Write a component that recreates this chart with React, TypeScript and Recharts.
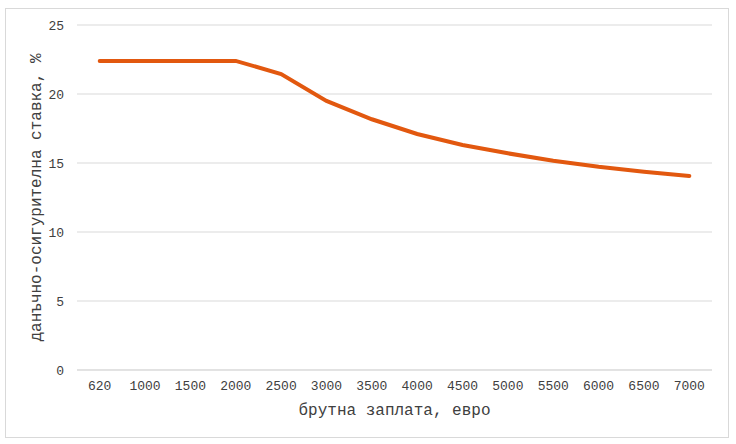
import { LineChart, Line, XAxis, YAxis, CartesianGrid } from 'recharts';

const salaries = ['620', '1000', '1500', '2000', '2500', '3000', '3500', '4000', '4500', '5000', '5500', '6000', '6500', '7000'];
const rates = [22.4, 22.4, 22.4, 22.4, 21.45, 19.5, 18.17, 17.1, 16.3, 15.7, 15.17, 14.73, 14.37, 14.06];
const yTicks = [0, 5, 10, 15, 20, 25];

const data = salaries.map((s, i) => ({ salary: s, rate: rates[i] }));

const FONT = '"Liberation Mono", "Courier New", monospace';
const TEXT = '#404040';

export default function App() {
    return (
        <div
            style={{
                position: 'absolute',
                left: 5,
                top: 8,
                width: 724,
                height: 430,
                border: '1px solid #d9d9d9',
                boxSizing: 'border-box',
                background: '#fff',
            }}
        >
            <LineChart width={722} height={428} data={data} margin={{ top: 16, right: 16, left: 0, bottom: 0 }}>
                <CartesianGrid vertical={false} stroke="#d9d9d9" strokeWidth={1} />
                <XAxis
                    dataKey="salary"
                    height={67}
                    padding={{ left: 22.7, right: 22.7 }}
                    axisLine={{ stroke: '#d9d9d9' }}
                    tickLine={false}
                    tickSize={0}
                    tickMargin={11}
                    interval={0}
                    tick={{ fontFamily: FONT, fontSize: 13, fill: TEXT }}
                    label={({ viewBox }: any) => (
                        <text
                            x={viewBox.x + viewBox.width / 2}
                            y={viewBox.y + 45}
                            textAnchor="middle"
                            fontFamily={FONT}
                            fontSize={16}
                            fill={TEXT}
                        >
                            брутна заплата, евро
                        </text>
                    )}
                />
                <YAxis
                    width={71}
                    domain={[0, 25]}
                    ticks={yTicks}
                    axisLine={false}
                    tickLine={false}
                    tickSize={0}
                    tickMargin={13}
                    tick={{ fontFamily: FONT, fontSize: 13, fill: TEXT }}
                    label={({ viewBox }: any) => {
                        const cx = viewBox.x + 31;
                        const cy = viewBox.y + viewBox.height / 2;
                        return (
                            <text
                                x={cx}
                                y={cy}
                                transform={`rotate(-90 ${cx} ${cy})`}
                                textAnchor="middle"
                                dominantBaseline="central"
                                fontFamily={FONT}
                                fontSize={16}
                                fill={TEXT}
                            >
                                данъчно-осигурителна ставка, %
                            </text>
                        );
                    }}
                />
                <Line
                    type="linear"
                    dataKey="rate"
                    stroke="#E2580F"
                    strokeWidth={4}
                    strokeLinecap="round"
                    dot={false}
                    activeDot={false}
                    isAnimationActive={false}
                />
            </LineChart>
        </div>
    );
}
